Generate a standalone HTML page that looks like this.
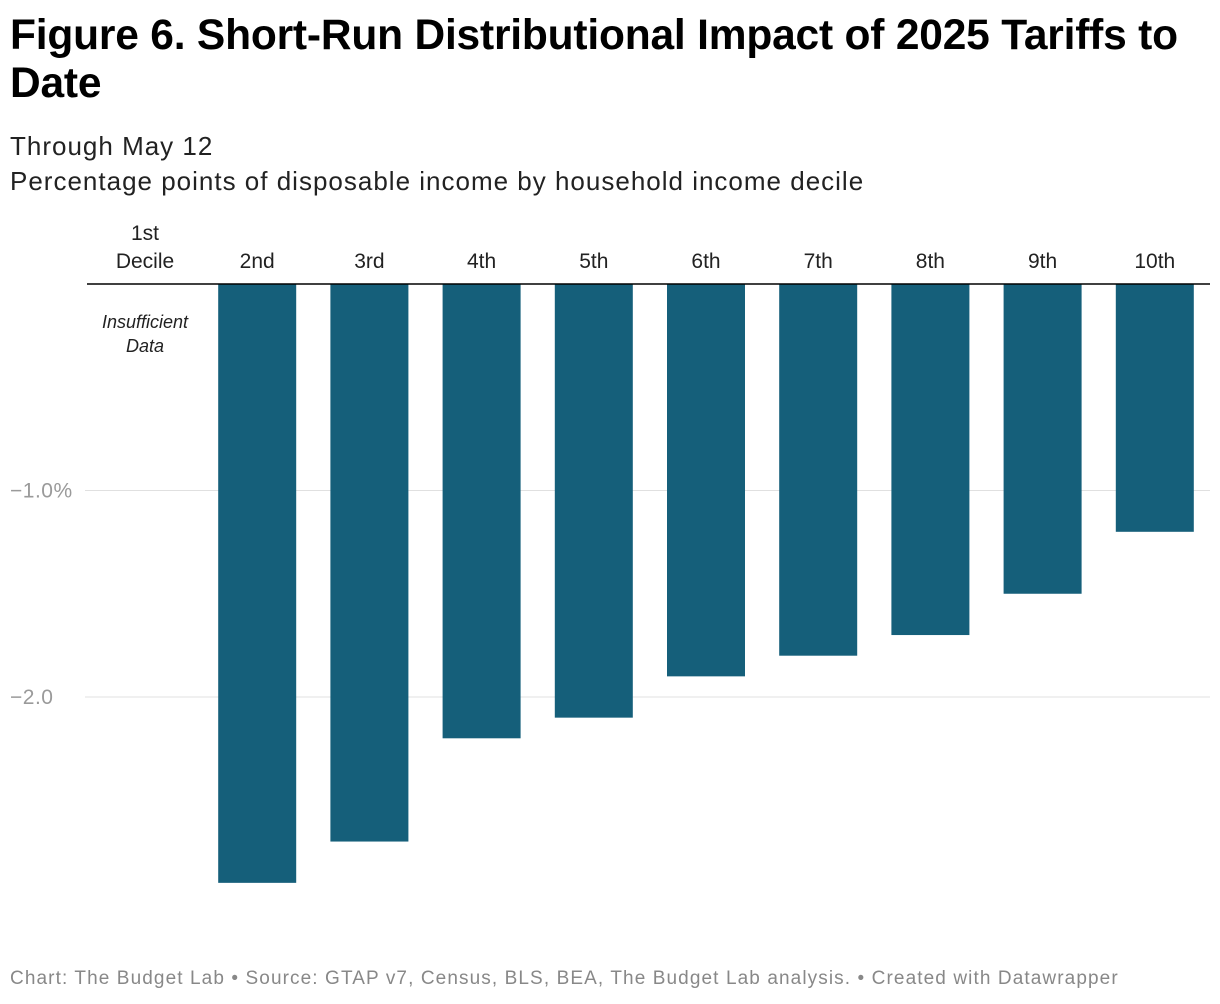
<!DOCTYPE html>
<html><head><meta charset="utf-8"><style>
body{margin:0;background:#fff;font-family:"Liberation Sans",Arial,sans-serif;}
#wrap{position:relative;width:1220px;height:1004px;overflow:hidden;}
h1{position:absolute;left:10px;top:12px;margin:0;font-size:42.5px;line-height:48px;font-weight:bold;color:#000;white-space:nowrap;letter-spacing:-0.2px}
.sub{position:absolute;left:10px;font-size:26px;color:#222;letter-spacing:1px}
.foot{position:absolute;left:10px;top:968px;font-size:19px;color:#888;letter-spacing:1.1px}
</style></head><body>
<div id="wrap">
<h1>Figure 6. Short-Run Distributional Impact of 2025 Tariffs to<br>Date</h1>
<div class="sub" style="top:131px">Through May 12</div>
<div class="sub" style="top:166px">Percentage points of disposable income by household income decile</div>
<svg id="chart" width="1220" height="1004" style="position:absolute;left:0;top:0"></svg>
<div class="foot">Chart: The Budget Lab • Source: GTAP v7, Census, BLS, BEA, The Budget Lab analysis. • Created with Datawrapper</div>
</div>
<script>
const categories=["1st Decile","2nd","3rd","4th","5th","6th","7th","8th","9th","10th"];
const values=[null,-2.9,-2.7,-2.2,-2.1,-1.9,-1.8,-1.7,-1.5,-1.2];
const ticks=[-1,-2];
const tickLabels=["\u22121.0%","\u22122.0"];
const NS="http://www.w3.org/2000/svg";
const svg=document.getElementById('chart');
const y0=284,pxPerUnit=206.5;
function y(v){return y0-v*pxPerUnit;}
function xc(i){return 145+i*112.2;}
const barW=78;
function el(t,a,txt){const e=document.createElementNS(NS,t);for(const k in a)e.setAttribute(k,a[k]);if(txt!==undefined)e.textContent=txt;svg.appendChild(e);return e;}
ticks.forEach((t,i)=>{
 const g=el('line',{x1:85,x2:1210,y1:y(t),y2:y(t),stroke:'#e0e0e0','stroke-width':1});
 
 
 const l=el('text',{x:10,y:y(t)+7,'font-size':21,'letter-spacing':0.5,fill:'#9a9a9a'},tickLabels[i]);
 
 
});
values.forEach((v,i)=>{
 if(v!==null){
  const r=el('rect',{x:xc(i)-barW/2,y:y0,width:barW,height:y(v)-y0,fill:'#155f7a'});
  
  
 }
});
categories.forEach((c,i)=>{
 if(i===0){
  const t1=el('text',{x:xc(i),y:240,'font-size':21,'text-anchor':'middle',fill:'#222'},'1st');
  
  
  const t2=el('text',{x:xc(i),y:268,'font-size':21,'text-anchor':'middle',fill:'#222'},'Decile');
  
  
 } else {
  const t=el('text',{x:xc(i),y:268,'font-size':21,'text-anchor':'middle',fill:'#222'},c);
  
  
 }
});
const n1=el('text',{x:xc(0),y:328,'font-size':18,'font-style':'italic','text-anchor':'middle',fill:'#222'},'Insufficient');


const n2=el('text',{x:xc(0),y:352,'font-size':18,'font-style':'italic','text-anchor':'middle',fill:'#222'},'Data');


const z=el('line',{x1:87,x2:1210,y1:y0,y2:y0,stroke:'#000','stroke-width':1.5});


</script>
</body></html>
